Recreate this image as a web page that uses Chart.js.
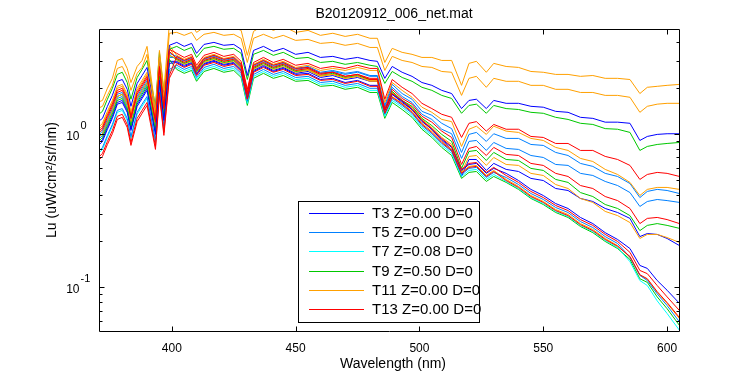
<!DOCTYPE html>
<html>
<head>
<meta charset="utf-8">
<script src="https://cdn.jsdelivr.net/npm/chart.js@4.4.1/dist/chart.umd.min.js"></script>
<style>
html,body{margin:0;padding:0;background:#fff;}
canvas{display:block;}
</style>
</head>
<body>
<canvas id="c" width="750" height="375"></canvas>
<script>
// ---------- data ----------
const wavelength = [370,372,374,376,378,380,382,383.5,386,388,390,393.4,395,396.8,399,402,405,408,410,413,417,421,425,428,430.5,433,437,441,445,450,455,460,465,470,475,480,483,486,489,493,497,501,505,509,513,517,520,523,527,530,535,540,545,550,555,560,565,570,575,580,585,589,592,596,600,605];

const lu_T3 = [0.826,0.891,1.07,1.26,1.56,1.60,1.38,1.05,1.51,1.70,1.92,0.99,2.23,1.22,2.88,
2.92,2.75,2.88,2.44,2.84,2.97,2.80,2.88,2.59,1.70,2.55,2.75,2.55,2.67,2.44,
2.48,2.26,2.30,2.16,2.23,2.07,2.07,1.42,1.81,1.63,1.44,1.20,1.07,0.918,0.814,
0.576,0.630,0.640,0.551,0.594,0.551,0.495,0.433,0.395,0.350,0.325,0.284,0.259,0.226,0.204,
0.178,0.138,0.132,0.110,0.095,0.078];
const lu_T5 = [0.755,0.814,0.975,1.15,1.42,1.46,1.26,0.960,1.38,1.56,1.75,0.904,2.04,1.12,2.63,
2.80,2.63,2.75,2.33,2.71,2.84,2.67,2.75,2.48,1.63,2.44,2.63,2.44,2.55,2.33,
2.37,2.16,2.20,2.07,2.13,1.98,1.98,1.34,1.70,1.53,1.36,1.13,1.00,0.864,0.766,
0.542,0.594,0.603,0.518,0.559,0.518,0.466,0.407,0.372,0.330,0.306,0.267,0.244,0.213,0.192,
0.156,0.119,0.110,0.090,0.0755,0.059];
const lu_T7 = [0.733,0.790,0.946,1.12,1.38,1.42,1.22,0.932,1.34,1.51,1.70,0.877,1.98,1.08,2.55,
2.71,2.55,2.67,2.26,2.63,2.75,2.59,2.67,2.40,1.58,2.37,2.55,2.37,2.48,2.26,
2.30,2.10,2.13,2.01,2.07,1.92,1.92,1.30,1.65,1.49,1.32,1.10,0.975,0.839,0.744,
0.526,0.576,0.585,0.503,0.542,0.488,0.439,0.383,0.350,0.311,0.288,0.252,0.230,0.201,0.181,
0.146,0.110,0.102,0.081,0.067,0.052];
const lu_T9 = [0.877,0.946,1.13,1.34,1.65,1.70,1.46,1.12,1.60,1.81,2.04,1.05,2.37,1.30,3.06,
2.63,2.48,2.59,2.20,2.55,2.67,2.52,2.59,2.33,1.53,2.30,2.48,2.30,2.40,2.20,
2.23,2.04,2.07,1.95,2.01,1.86,1.86,1.26,1.60,1.44,1.28,1.07,0.946,0.814,0.721,
0.511,0.559,0.567,0.488,0.526,0.481,0.433,0.378,0.345,0.306,0.284,0.248,0.226,0.198,0.178,
0.151,0.113,0.107,0.086,0.072,0.056];
const lu_T11 = [0.932,1.00,1.20,1.42,1.75,1.81,1.56,1.19,1.70,1.92,2.16,1.12,2.52,1.38,3.25,
3.10,2.92,3.06,2.59,3.01,3.15,2.97,3.06,2.75,1.81,2.71,2.92,2.71,2.84,2.59,
2.63,2.40,2.44,2.30,2.37,2.20,2.20,1.38,1.75,1.58,1.40,1.17,1.04,0.891,0.790,
0.559,0.612,0.621,0.534,0.576,0.503,0.453,0.395,0.361,0.320,0.297,0.259,0.237,0.207,0.186,
0.156,0.119,0.112,0.092,0.078,0.062];
const lu_T13 = [0.690,0.744,0.891,1.05,1.30,1.34,1.15,0.877,1.26,1.42,1.60,0.826,1.86,1.02,2.40,
3.20,3.01,3.15,2.67,3.10,3.25,3.06,3.15,2.84,1.86,2.80,3.01,2.80,2.92,2.67,
2.71,2.48,2.52,2.37,2.44,2.26,2.26,1.44,1.83,1.65,1.46,1.22,1.08,0.932,0.826,
0.585,0.640,0.649,0.559,0.603,0.534,0.481,0.420,0.383,0.340,0.315,0.275,0.252,0.220,0.198,
0.168,0.128,0.122,0.102,0.086,0.070];
const lu_T15 = [0.659,0.711,0.851,1.00,1.24,1.28,1.10,0.839,1.20,1.36,1.53,0.790,1.78,0.975,2.30,
2.88,2.71,2.84,2.40,2.80,2.92,2.75,2.84,2.55,1.68,2.52,2.71,2.52,2.63,2.40,
2.44,2.23,2.26,2.13,2.20,2.04,2.04,1.36,1.73,1.56,1.38,1.15,1.02,0.877,0.778,
0.551,0.603,0.612,0.526,0.567,0.495,0.446,0.389,0.356,0.315,0.292,0.255,0.233,0.204,0.184,
0.158,0.120,0.113,0.093,0.079,0.063];
const lu_T17 = [1.60,1.65,1.98,2.30,3.01,3.10,2.67,2.16,2.75,3.01,3.72,1.42,3.50,1.92,5.18,
5.03,4.88,5.18,4.59,4.95,5.10,4.88,4.95,4.73,3.25,4.66,5.10,4.73,5.03,4.59,
4.73,4.39,4.53,4.32,4.46,4.20,4.20,2.92,3.61,3.40,3.30,3.15,3.15,3.01,3.01,
2.07,2.88,2.97,2.52,2.88,2.75,2.71,2.55,2.52,2.44,2.44,2.37,2.40,2.30,2.30,
2.26,1.83,2.01,2.04,2.07,2.10];
const lu_T19 = [1.46,1.51,1.78,2.07,2.67,2.75,2.37,1.92,2.48,2.71,3.30,1.30,3.15,1.73,4.53,
4.59,4.39,4.59,4.07,4.46,4.59,4.39,4.46,4.20,2.92,4.20,4.46,4.20,4.39,4.07,
4.13,3.89,3.95,3.78,3.89,3.66,3.66,2.59,3.20,3.01,2.92,2.75,2.71,2.55,2.52,
1.78,2.30,2.37,2.01,2.30,2.20,2.20,2.07,2.07,1.95,1.95,1.86,1.86,1.78,1.78,
1.73,1.38,1.51,1.56,1.58,1.58];
const lu_T21 = [1.19,1.26,1.51,1.78,2.20,2.26,1.95,1.51,2.13,2.40,2.71,1.40,3.15,1.73,3.78,
3.95,3.72,3.89,3.35,3.83,3.95,3.78,3.83,3.56,2.40,3.50,3.72,3.45,3.61,3.30,
3.40,3.15,3.20,3.06,3.15,3.01,2.97,2.30,2.75,2.52,2.37,2.16,2.07,1.92,1.83,
1.46,1.65,1.68,1.46,1.65,1.58,1.58,1.51,1.49,1.40,1.38,1.28,1.26,1.19,1.19,
1.17,0.904,0.960,0.99,1.00,1.00];
const lu_T23 = [1.32,1.40,1.68,1.98,2.44,2.52,2.16,1.68,2.33,2.63,3.01,1.51,3.40,1.86,3.56,
3.72,3.50,3.66,3.15,3.61,3.72,3.56,3.61,3.35,2.26,3.30,3.50,3.25,3.40,3.10,
3.15,2.92,2.97,2.84,2.92,2.80,2.75,2.13,2.55,2.33,2.20,2.01,1.92,1.78,1.70,
1.36,1.53,1.56,1.36,1.53,1.46,1.44,1.38,1.36,1.28,1.24,1.17,1.15,1.08,1.07,
1.02,0.778,0.826,0.851,0.864,0.877];
const lu_T25 = [1.02,1.10,1.32,1.56,1.92,1.98,1.70,1.30,1.86,2.10,2.37,1.22,2.75,1.51,3.56,
3.35,3.15,3.30,2.80,3.25,3.40,3.20,3.30,2.97,1.95,2.92,3.15,2.92,3.06,2.80,
2.88,2.67,2.75,2.67,2.80,2.67,2.67,1.68,2.26,2.01,1.83,1.58,1.46,1.34,1.28,
0.946,1.17,1.20,1.04,1.15,1.07,1.07,0.960,0.946,0.864,0.864,0.778,0.778,0.711,0.679,
0.621,0.503,0.542,0.559,0.551,0.526];
const lu_T27 = [1.08,1.17,1.40,1.65,2.04,2.10,1.81,1.38,1.98,2.23,2.52,1.30,2.92,1.60,3.78,
3.25,3.06,3.20,2.71,3.15,3.30,3.10,3.20,2.88,1.89,2.84,3.06,2.84,2.97,2.71,
2.80,2.59,2.67,2.59,2.71,2.59,2.59,1.60,2.16,1.92,1.73,1.49,1.38,1.24,1.20,
0.826,1.07,1.12,0.99,1.12,1.04,1.02,0.932,0.904,0.814,0.778,0.690,0.659,0.585,0.542,
0.481,0.395,0.433,0.446,0.446,0.433];
const lu_T29 = [0.960,1.04,1.24,1.46,1.81,1.86,1.60,1.22,1.75,1.98,2.23,1.15,2.59,1.42,3.35,
3.20,3.01,3.15,2.67,3.10,3.25,3.06,3.15,2.84,1.86,2.80,3.01,2.80,2.92,2.67,
2.75,2.52,2.59,2.48,2.55,2.40,2.40,1.53,2.10,1.83,1.68,1.40,1.32,1.17,1.08,
0.755,0.99,1.02,0.891,1.00,0.932,0.932,0.851,0.839,0.755,0.721,0.640,0.612,0.551,0.526,
0.473,0.383,0.420,0.433,0.426,0.407];
const lu_T31 = [0.904,0.975,1.17,1.38,1.70,1.75,1.51,1.15,1.65,1.86,2.10,1.08,2.44,1.34,3.15,
3.15,2.97,3.10,2.63,3.06,3.20,3.01,3.10,2.80,1.83,2.75,2.97,2.75,2.88,2.63,
2.71,2.48,2.55,2.44,2.52,2.37,2.37,1.49,2.01,1.75,1.60,1.34,1.24,1.07,1.00,
0.690,0.891,0.904,0.778,0.877,0.802,0.790,0.721,0.700,0.630,0.621,0.551,0.534,0.488,0.459,
0.413,0.335,0.361,0.372,0.366,0.356];
const lu_T33 = [0.99,1.07,1.28,1.51,1.86,1.92,1.65,1.26,1.81,2.04,2.30,1.19,2.67,1.46,3.45,
3.10,2.92,3.06,2.59,3.01,3.15,2.97,3.06,2.75,1.81,2.71,2.92,2.71,2.84,2.59,
2.67,2.44,2.52,2.37,2.44,2.30,2.30,1.44,1.95,1.70,1.56,1.30,1.19,1.04,0.946,
0.630,0.802,0.826,0.721,0.814,0.733,0.721,0.640,0.621,0.551,0.526,0.459,0.439,0.389,0.366,
0.325,0.259,0.280,0.284,0.275,0.259];
const lu_T35 = [0.932,1.00,1.20,1.42,1.75,1.81,1.56,1.19,1.70,1.92,2.16,1.12,2.52,1.38,3.25,
3.06,2.88,3.01,2.55,2.97,3.10,2.92,3.01,2.71,1.78,2.67,2.88,2.67,2.80,2.55,
2.63,2.40,2.48,2.33,2.40,2.26,2.26,1.40,1.89,1.65,1.51,1.26,1.13,0.99,0.891,
0.594,0.766,0.778,0.669,0.755,0.679,0.669,0.594,0.576,0.503,0.481,0.413,0.389,0.345,0.325,
0.292,0.233,0.252,0.259,0.252,0.241];
const lu_T37 = [1.05,1.13,1.36,1.60,1.98,2.04,1.75,1.34,1.92,2.16,2.44,1.26,2.84,1.56,3.66,
3.01,2.84,2.97,2.52,2.92,3.06,2.88,2.97,2.67,1.75,2.63,2.84,2.63,2.75,2.52,
2.59,2.37,2.44,2.30,2.37,2.23,2.23,1.38,1.86,1.63,1.49,1.24,1.10,0.946,0.851,
0.559,0.711,0.721,0.621,0.700,0.630,0.621,0.551,0.534,0.466,0.439,0.378,0.356,0.311,0.292,
0.263,0.207,0.220,0.220,0.210,0.195];
const lu_T39 = [0.851,0.918,1.10,1.30,1.60,1.65,1.42,1.08,1.56,1.75,1.98,1.02,2.30,1.26,2.97,
2.97,2.80,2.92,2.48,2.88,3.01,2.84,2.92,2.63,1.73,2.59,2.80,2.59,2.71,2.48,
2.55,2.33,2.40,2.26,2.33,2.20,2.20,1.36,1.81,1.60,1.44,1.22,1.07,0.904,0.790,
0.526,0.679,0.679,0.576,0.640,0.585,0.567,0.511,0.495,0.439,0.426,0.378,0.361,0.325,0.306,
0.280,0.213,0.223,0.220,0.207,0.186];

const seriesLabels = ['T3 Z=0.00 D=0','T5 Z=0.00 D=0','T7 Z=0.08 D=0','T9 Z=0.50 D=0','T11 Z=0.00 D=0','T13 Z=0.00 D=0',
  'T15','T17','T19','T21','T23','T25','T27','T29','T31','T33','T35','T37','T39'];
const seriesValues = [lu_T3,lu_T5,lu_T7,lu_T9,lu_T11,lu_T13,lu_T15,lu_T17,lu_T19,lu_T21,lu_T23,lu_T25,lu_T27,lu_T29,lu_T31,lu_T33,lu_T35,lu_T37,lu_T39];
const legendCount = 6;

const xTickValues = [400,450,500,550,600];
const yMajorTicks = [0.1, 1];
const yMajorExponents = ['-1','0'];
const yMinorTicks = [0.06,0.07,0.08,0.09,0.2,0.3,0.4,0.5,0.6,0.7,0.8,0.9,2,3,4];
const xRange = [370.6, 604.8];
const yRange = [0.0515, 4.83];

const titleText = 'B20120912_006_net.mat';
const xLabelText = 'Wavelength (nm)';
const yLabelText = 'Lu (uW/cm\u00B2/sr/nm)';

// ---------- styles ----------
const BLUE='#0000ff', LBLUE='#0080ff', CYAN='#00ffff', GREEN='#00c800', ORANGE='#ffa000', RED='#ff0000';
const seriesColors = [BLUE,LBLUE,CYAN,GREEN,ORANGE,RED,RED,ORANGE,ORANGE,BLUE,GREEN,RED,ORANGE,LBLUE,LBLUE,RED,GREEN,ORANGE,BLUE];
const FONT = '"Liberation Sans", Arial, Helvetica, sans-serif';

const datasets = seriesValues.map((vals, i) => ({
  label: seriesLabels[i],
  data: wavelength.map((w, j) => ({x: w, y: vals[j]})),
  borderColor: seriesColors[i],
  backgroundColor: seriesColors[i],
  borderWidth: 1,
  pointRadius: 0,
  fill: false,
  tension: 0,
  order: seriesColors[i] === RED ? -1 : 0
}));

const matlabAxes = {
  id: 'matlabAxes',
  beforeDraw(chart) {
    const ctx = chart.ctx;
    ctx.save();
    ctx.fillStyle = '#fff';
    ctx.fillRect(0, 0, chart.width, chart.height);
    ctx.restore();
  },
  afterDatasetsDraw(chart) {
    const ctx = chart.ctx;
    const a = chart.chartArea;
    const xs = chart.scales.x, ys = chart.scales.y;
    const L = Math.round(a.left) + 0.5, R = Math.round(a.right) + 0.5;
    const T = Math.round(a.top) + 0.5, B = Math.round(a.bottom) + 0.5;
    ctx.save();
    ctx.strokeStyle = '#000';
    ctx.lineWidth = 1;
    ctx.beginPath();
    ctx.rect(L, T, R - L, B - T);
    xTickValues.forEach(v => {
      const px = Math.round(xs.getPixelForValue(v)) + 0.5;
      ctx.moveTo(px, B); ctx.lineTo(px, B - 5);
      ctx.moveTo(px, T); ctx.lineTo(px, T + 5);
    });
    yMajorTicks.forEach(v => {
      const py = Math.round(ys.getPixelForValue(v)) + 0.5;
      ctx.moveTo(L, py); ctx.lineTo(L + 5, py);
      ctx.moveTo(R, py); ctx.lineTo(R - 5, py);
    });
    yMinorTicks.forEach(v => {
      const py = Math.round(ys.getPixelForValue(v)) + 0.5;
      ctx.moveTo(L, py); ctx.lineTo(L + 3, py);
      ctx.moveTo(R, py); ctx.lineTo(R - 3, py);
    });
    ctx.stroke();

    ctx.fillStyle = '#000';
    ctx.font = '12px ' + FONT;
    ctx.textAlign = 'center';
    ctx.textBaseline = 'alphabetic';
    xTickValues.forEach(v => {
      ctx.fillText(String(v), xs.getPixelForValue(v), 352);
    });
    yMajorTicks.forEach((v, i) => {
      const py = ys.getPixelForValue(v);
      ctx.font = '12px ' + FONT;
      ctx.textAlign = 'right';
      ctx.fillText('10', 79.5, py + 6);
      ctx.font = '11px ' + FONT;
      ctx.textAlign = 'left';
      ctx.fillText(yMajorExponents[i], 80.5, py - 5);
    });
    ctx.font = '14px ' + FONT;
    ctx.textAlign = 'center';
    ctx.fillText(titleText, 394, 18);
    ctx.fillText(xLabelText, 393, 368);
    ctx.save();
    ctx.translate(56, 180);
    ctx.rotate(-Math.PI / 2);
    ctx.fillText(yLabelText, 0, 0);
    ctx.restore();

    const lx = 298.5, ly = 201.5, lw = 181, lh = 121;
    ctx.fillStyle = '#fff';
    ctx.fillRect(lx, ly, lw, lh);
    ctx.font = '15px ' + FONT;
    ctx.textAlign = 'left';
    ctx.textBaseline = 'middle';
    chart.data.datasets.slice(0, legendCount).forEach((ds, i) => {
      const ry = Math.round(213 + i * 19.2) + 0.5;
      ctx.strokeStyle = ds.borderColor;
      ctx.beginPath();
      ctx.moveTo(309, ry); ctx.lineTo(364, ry);
      ctx.stroke();
      ctx.fillStyle = '#000';
      ctx.fillText(ds.label, 372, ry + 0.5);
    });
    ctx.strokeStyle = '#000';
    ctx.strokeRect(lx, ly, lw, lh);
    ctx.restore();
  }
};

new Chart(document.getElementById('c'), {
  type: 'line',
  data: { datasets },
  options: {
    responsive: false,
    animation: false,
    devicePixelRatio: 1,
    layout: { padding: { left: 99, right: 71, top: 29, bottom: 44 } },
    plugins: { legend: { display: false }, title: { display: false }, tooltip: { enabled: false } },
    scales: {
      x: { type: 'linear', min: xRange[0], max: xRange[1], display: false },
      y: { type: 'logarithmic', min: yRange[0], max: yRange[1], display: false }
    },
    elements: { point: { radius: 0 }, line: { borderWidth: 1, tension: 0 } }
  },
  plugins: [matlabAxes]
});
</script>
</body>
</html>
